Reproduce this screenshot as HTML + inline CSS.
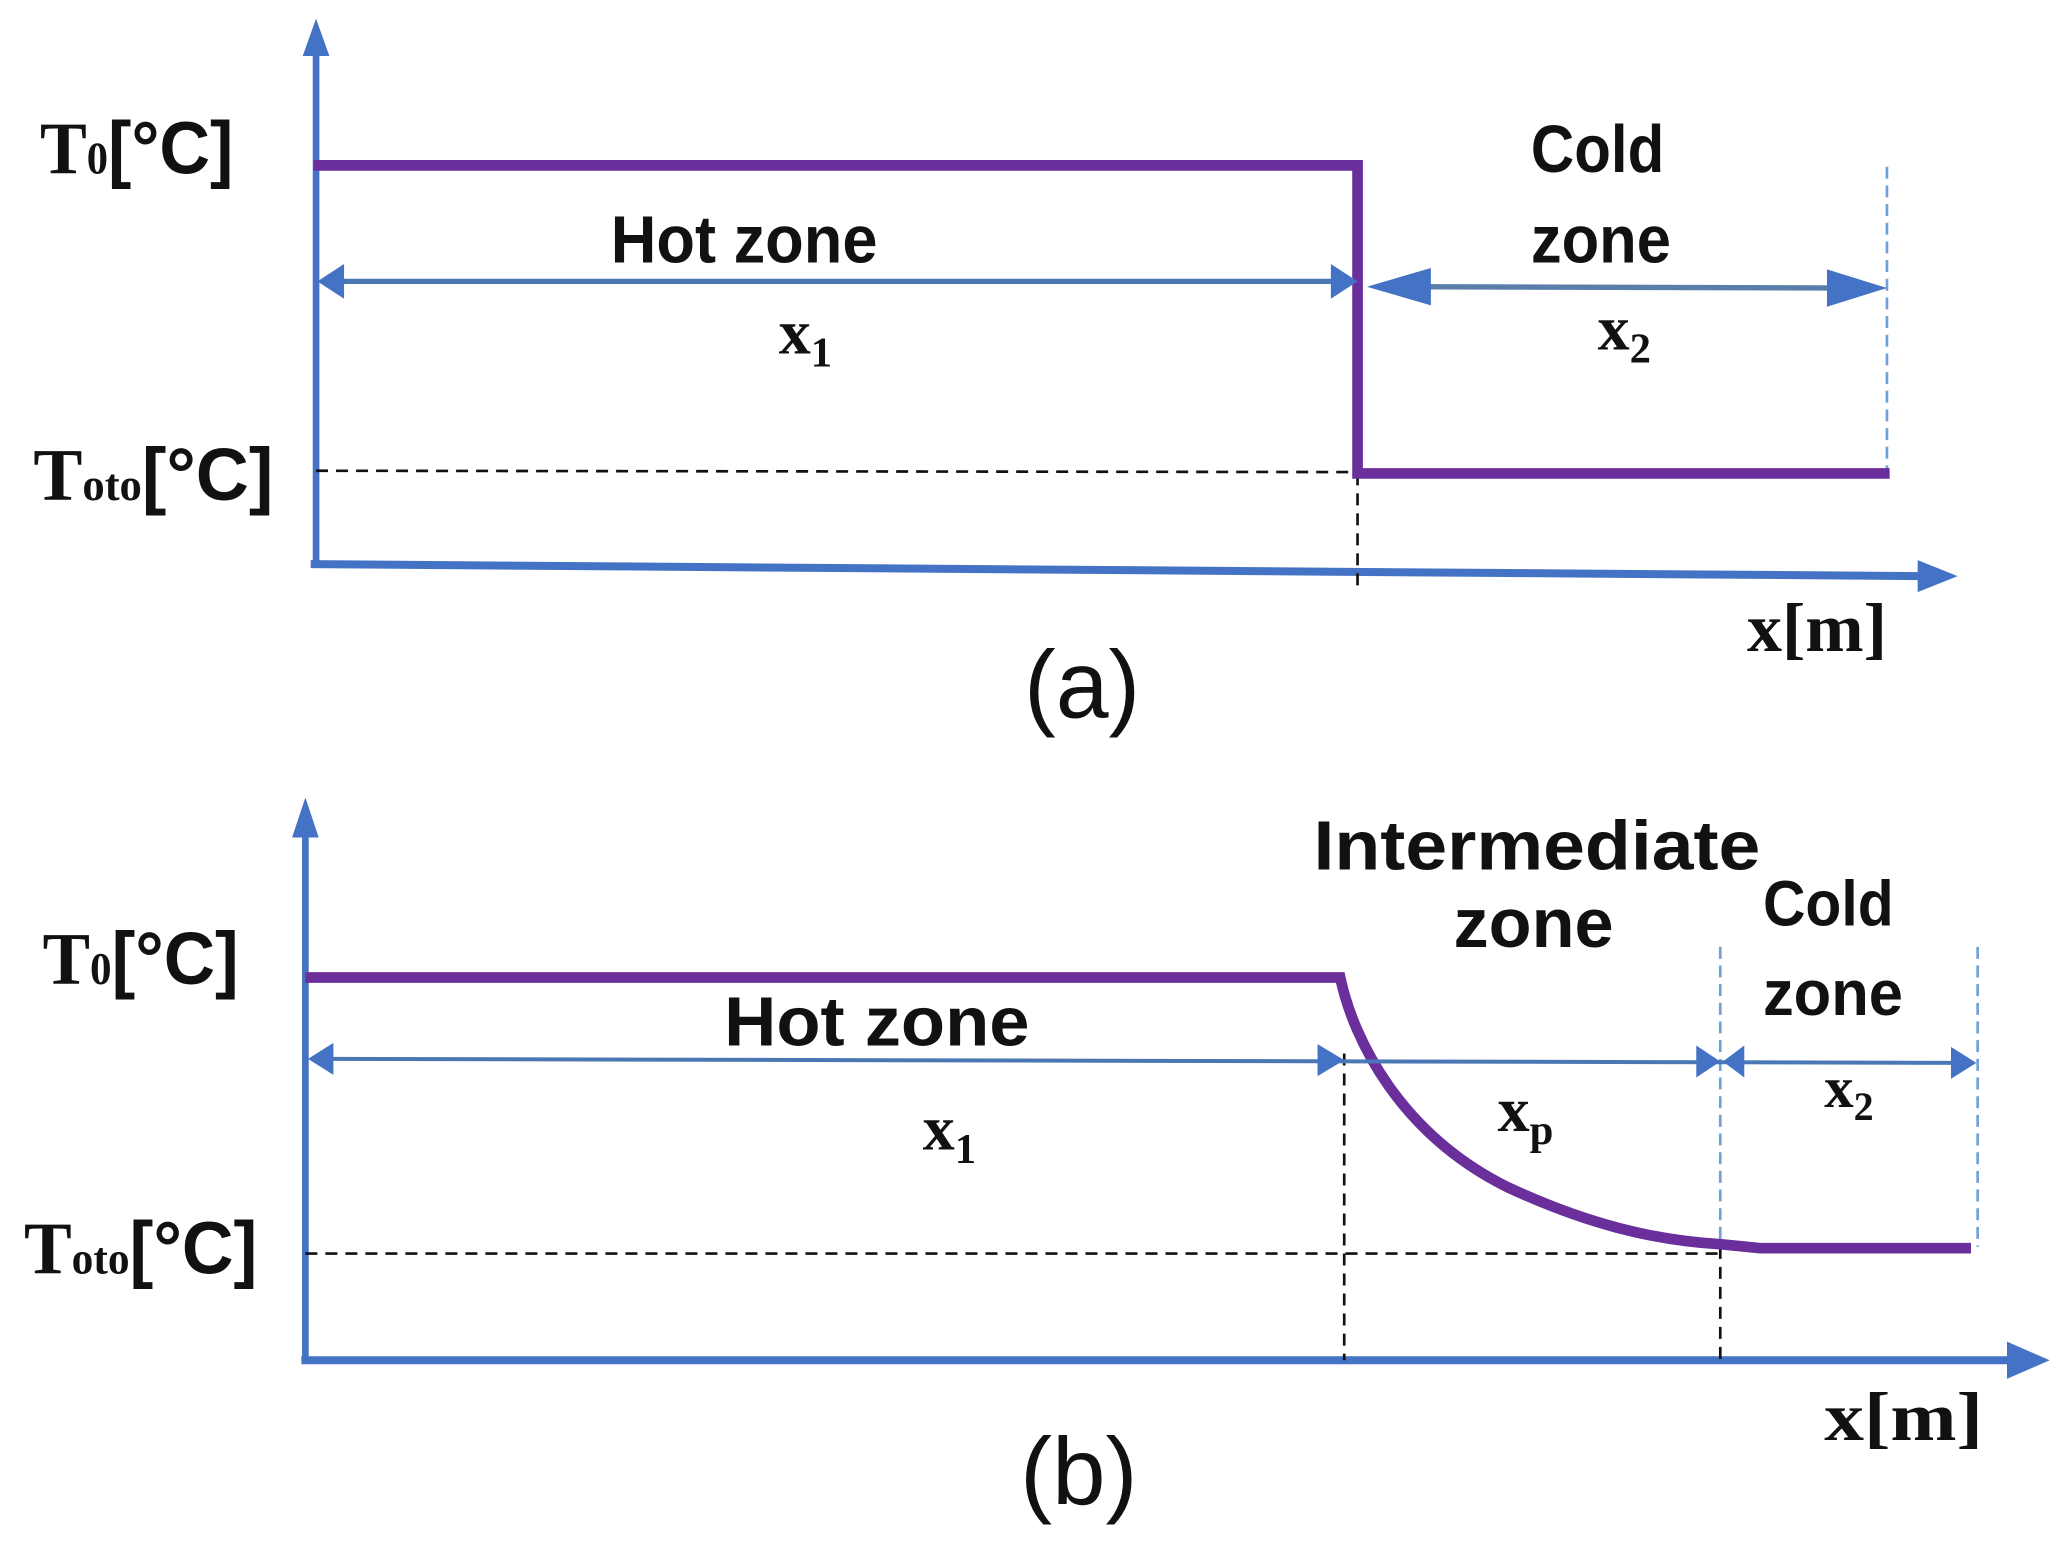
<!DOCTYPE html>
<html><head><meta charset="utf-8"><style>html,body{margin:0;padding:0;background:#fff}svg{display:block}</style></head>
<body>
<svg width="2067" height="1550" viewBox="0 0 1550 1162.3" preserveAspectRatio="none" xmlns="http://www.w3.org/2000/svg">
<g font-family="Liberation Sans, sans-serif" font-weight="bold" fill="#111">
<!-- Panel a -->
<line x1="237" y1="423" x2="237" y2="40" stroke="#4472C4" stroke-width="5"/>
<path d="M227,42 L237,14 L247,42 z" fill="#4472C4"/>
<line x1="233" y1="423" x2="1440" y2="432" stroke="#4472C4" stroke-width="6"/>
<path d="M1438,420 L1468,432 L1438,444 z" fill="#4472C4"/>
<line x1="237" y1="353" x2="1018" y2="354" stroke="#111" stroke-width="2" stroke-dasharray="9,6"/>
<line x1="1018" y1="355" x2="1018" y2="440" stroke="#111" stroke-width="2" stroke-dasharray="9,6"/>
<line x1="1415" y1="125" x2="1415" y2="355" stroke="#6fa0d8" stroke-width="2" stroke-dasharray="9,5"/>
<path d="M235,124 L1018,124 L1018,355 L1417,355" fill="none" stroke="#6a2f9a" stroke-width="8"/>
<line x1="255" y1="211" x2="1000" y2="211" stroke="#4a78b5" stroke-width="4"/>
<path d="M258,198 L238,211 L258,224 z M998,198 L1018,211 L998,224 z" fill="#4472C4"/>
<line x1="1045" y1="215" x2="1395" y2="216" stroke="#5a7eaa" stroke-width="4"/>
<path d="M1073,201 L1025,215 L1073,229 z M1370,202 L1415,216 L1370,230 z" fill="#4472C4"/>
<text x="458" y="197" font-size="50" textLength="200" lengthAdjust="spacingAndGlyphs">Hot zone</text>
<text x="1148" y="129" font-size="50" textLength="100" lengthAdjust="spacingAndGlyphs">Cold</text>
<text x="1148" y="197" font-size="50" textLength="105" lengthAdjust="spacingAndGlyphs">zone</text>
<text x="584" y="265" font-size="48" font-family="Liberation Serif, serif">x<tspan font-size="32" dy="10">1</tspan></text>
<text x="1198" y="262" font-size="48" font-family="Liberation Serif, serif">x<tspan font-size="32" dy="10">2</tspan></text>
<text x="30" y="130" font-size="56" font-family="Liberation Serif, serif" textLength="145" lengthAdjust="spacingAndGlyphs">T<tspan font-size="34">0</tspan><tspan font-family="Liberation Sans, sans-serif">[°C]</tspan></text>
<text x="25" y="375" font-size="56" font-family="Liberation Serif, serif" textLength="180" lengthAdjust="spacingAndGlyphs">T<tspan font-size="34">oto</tspan><tspan font-family="Liberation Sans, sans-serif">[°C]</tspan></text>
<text x="1310" y="488" font-size="52" font-family="Liberation Serif, serif" textLength="105" lengthAdjust="spacingAndGlyphs">x[m]</text>
<text x="768" y="538" font-size="72" font-weight="normal" textLength="87" lengthAdjust="spacingAndGlyphs">(a)</text>

<!-- Panel b -->
<line x1="229" y1="1022" x2="229" y2="625" stroke="#4472C4" stroke-width="5"/>
<path d="M219,628 L229,598 L239,628 z" fill="#4472C4"/>
<line x1="226" y1="1020" x2="1508" y2="1020" stroke="#4472C4" stroke-width="6"/>
<path d="M1505,1006 L1537,1020 L1505,1034 z" fill="#4472C4"/>
<line x1="229" y1="940" x2="1290" y2="940" stroke="#111" stroke-width="2" stroke-dasharray="9,6"/>
<line x1="1008" y1="790" x2="1008" y2="1020" stroke="#111" stroke-width="2" stroke-dasharray="9,6"/>
<line x1="1290" y1="935" x2="1290" y2="1020" stroke="#111" stroke-width="2" stroke-dasharray="9,6"/>
<line x1="1290" y1="710" x2="1290" y2="935" stroke="#6fa0d8" stroke-width="2" stroke-dasharray="9,5"/>
<line x1="1483" y1="710" x2="1483" y2="935" stroke="#6fa0d8" stroke-width="2" stroke-dasharray="9,5"/>
<path d="M229,733 L1005,733 C1015,780 1050,850 1130,890 C1190,918 1240,930 1290,933 L1320,936 L1478,936" fill="none" stroke="#6a2f9a" stroke-width="8"/>
<line x1="245" y1="794" x2="1470" y2="797" stroke="#4a78b5" stroke-width="3"/>
<path d="M250,782 L231,794 L250,806 z M988,783 L1008,795 L988,807 z M1272,784 L1290,796 L1272,808 z M1308,784 L1292,796 L1308,808 z M1463,785 L1482,797 L1463,809 z" fill="#4472C4"/>
<text x="543" y="784" font-size="52" textLength="229" lengthAdjust="spacingAndGlyphs">Hot zone</text>
<text x="985" y="652" font-size="52" textLength="335" lengthAdjust="spacingAndGlyphs">Intermediate</text>
<text x="1090" y="710" font-size="52" textLength="120" lengthAdjust="spacingAndGlyphs">zone</text>
<text x="1322" y="694" font-size="48" textLength="98" lengthAdjust="spacingAndGlyphs">Cold</text>
<text x="1322" y="761" font-size="48" textLength="105" lengthAdjust="spacingAndGlyphs">zone</text>
<text x="692" y="862" font-size="48" font-family="Liberation Serif, serif">x<tspan font-size="32" dy="10">1</tspan></text>
<text x="1123" y="848" font-size="48" font-family="Liberation Serif, serif">x<tspan font-size="32" dy="10">p</tspan></text>
<text x="1368" y="830" font-size="44" font-family="Liberation Serif, serif">x<tspan font-size="30" dy="10">2</tspan></text>
<text x="32" y="738" font-size="56" font-family="Liberation Serif, serif" textLength="147" lengthAdjust="spacingAndGlyphs">T<tspan font-size="34">0</tspan><tspan font-family="Liberation Sans, sans-serif">[°C]</tspan></text>
<text x="18" y="955" font-size="56" font-family="Liberation Serif, serif" textLength="175" lengthAdjust="spacingAndGlyphs">T<tspan font-size="34">oto</tspan><tspan font-family="Liberation Sans, sans-serif">[°C]</tspan></text>
<text x="1368" y="1080" font-size="52" font-family="Liberation Serif, serif" textLength="119" lengthAdjust="spacingAndGlyphs">x[m]</text>
<text x="765" y="1128" font-size="72" font-weight="normal" textLength="88" lengthAdjust="spacingAndGlyphs">(b)</text>
</g>
</svg>
</body></html>
